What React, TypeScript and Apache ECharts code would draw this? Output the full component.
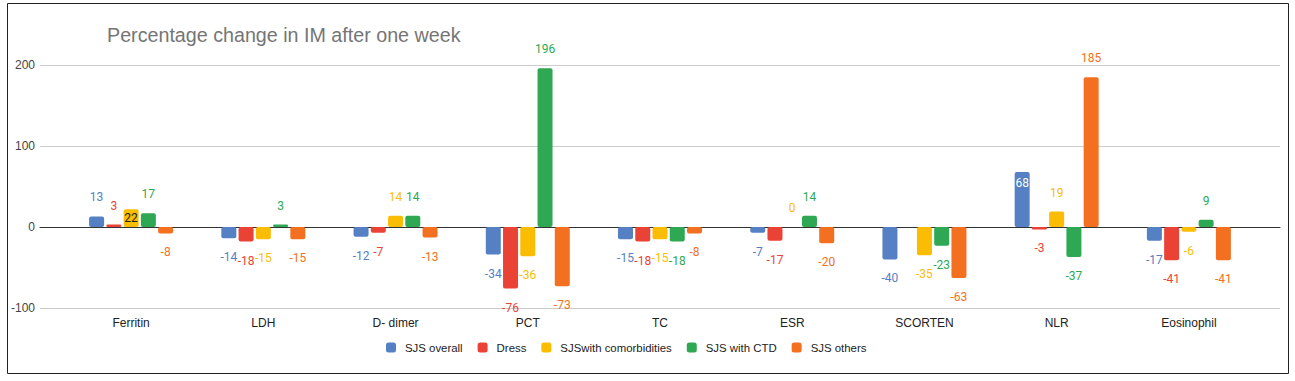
import React, { useEffect, useRef } from "react";
import * as echarts from "echarts";

const categories = ["Ferritin", "LDH", "D- dimer", "PCT", "TC", "ESR", "SCORTEN", "NLR", "Eosinophil"];
const seriesNames = ["SJS overall", "Dress", "SJSwith comorbidities", "SJS with CTD", "SJS others"];
const sjsOverall = [13, -14, -12, -34, -15, -7, -40, 68, -17];
const dress = [3, -18, -7, -76, -18, -17, null, -3, -41];
const sjsComorb = [22, -15, 14, -36, -15, 0, -35, 19, -6];
const sjsCtd = [17, 3, 14, 196, -18, 14, -23, -37, 9];
const sjsOthers = [-8, -15, -13, -73, -8, -20, -63, 185, -41];
const yTicks = [-100, 0, 100, 200];

const colors = ["#5580C3", "#EA4335", "#FBBC04", "#2EA852", "#F37021"];
const allValues = [sjsOverall, dress, sjsComorb, sjsCtd, sjsOthers];

// label overrides: [seriesIndex, categoryIndex] -> label style
const labelOverrides: Record<string, any> = {
  "2-0": { position: "inside", color: "#222", distance: 0 },
  "0-7": { position: "insideTop", color: "#ffffff", distance: 5 },
};

export default function App() {
  const ref = useRef<HTMLDivElement>(null);
  useEffect(() => {
    if (!ref.current) return;
    const chart = echarts.init(ref.current, undefined, { renderer: "svg" });
    const series = allValues.map((vals, si) => ({
      name: seriesNames[si],
      type: "bar",
      xAxisIndex: 1,
      yAxisIndex: 1,
      barWidth: 15,
      barGap: "15%",
      itemStyle: { color: colors[si], borderRadius: 2 },
      label: {
        show: true,
        color: colors[si],
        fontSize: 12,
        fontFamily: "Roboto, Arial, sans-serif",
        distance: 13,
      },
      data: vals.map((v, ci) => {
        if (v === null) return null;
        const ov = labelOverrides[`${si}-${ci}`];
        return {
          value: v,
          label: ov ? ov : { position: v >= 0 ? "top" : "bottom" },
        };
      }),
    }));
    chart.setOption({
      animation: false,
      backgroundColor: "#ffffff",
      title: {
        text: "Percentage change in IM after one week",
        left: 107,
        top: 25,
        padding: 0,
        textStyle: {
          fontSize: 19.7,
          fontWeight: "normal",
          color: "#757575",
          fontFamily: "Liberation Sans, Arial, sans-serif",
        },
      },
      legend: {
        left: 386,
        top: 342,
        itemWidth: 10,
        itemHeight: 10,
        itemGap: 15,
        icon: "roundRect",
        padding: 0,
        textStyle: {
          fontSize: 11.4,
          color: "#222",
          fontFamily: "Liberation Sans, Arial, sans-serif",
          padding: [0, 0, 0, 4],
        },
        data: seriesNames,
      },
      graphic: [
        {
          type: "rect",
          shape: { x: 7.5, y: 3.5, width: 1281, height: 370 },
          style: { fill: "none", stroke: "#222", lineWidth: 1 },
          silent: true,
          z: 100,
        },
      ],
      grid: [
        { left: 40, right: 15, top: 65, bottom: 73 },
        { left: 65, right: 40, top: 65, bottom: 73 },
      ],
      xAxis: [
        {
          type: "category",
          gridIndex: 0,
          data: categories,
          axisLine: { show: true, onZero: true, lineStyle: { color: "#333", width: 1 } },
          axisTick: { show: false },
          axisLabel: { show: false },
          splitLine: { show: false },
        },
        {
          type: "category",
          gridIndex: 1,
          data: categories,
          axisLine: { show: false, onZero: false },
          axisTick: { show: false },
          axisLabel: {
            show: true,
            color: "#222",
            fontSize: 12,
            margin: 9,
            fontFamily: "Liberation Sans, Arial, sans-serif",
          },
          splitLine: { show: false },
        },
      ],
      yAxis: [
        {
          type: "value",
          gridIndex: 0,
          min: yTicks[0],
          max: yTicks[yTicks.length - 1],
          interval: 100,
          axisLine: { show: false },
          axisTick: { show: false },
          axisLabel: {
            color: "#444",
            fontSize: 12,
            margin: 5,
            fontFamily: "Liberation Sans, Arial, sans-serif",
          },
          splitLine: { show: true, lineStyle: { color: "#cccccc", width: 1 } },
        },
        {
          type: "value",
          gridIndex: 1,
          min: yTicks[0],
          max: yTicks[yTicks.length - 1],
          interval: 100,
          show: false,
          splitLine: { show: false },
        },
      ],
      series,
    });
    return () => chart.dispose();
  }, []);
  return (
    <div
      ref={ref}
      style={{ position: "fixed", left: 0, top: 0, width: 1295, height: 381, background: "#fff" }}
    />
  );
}
